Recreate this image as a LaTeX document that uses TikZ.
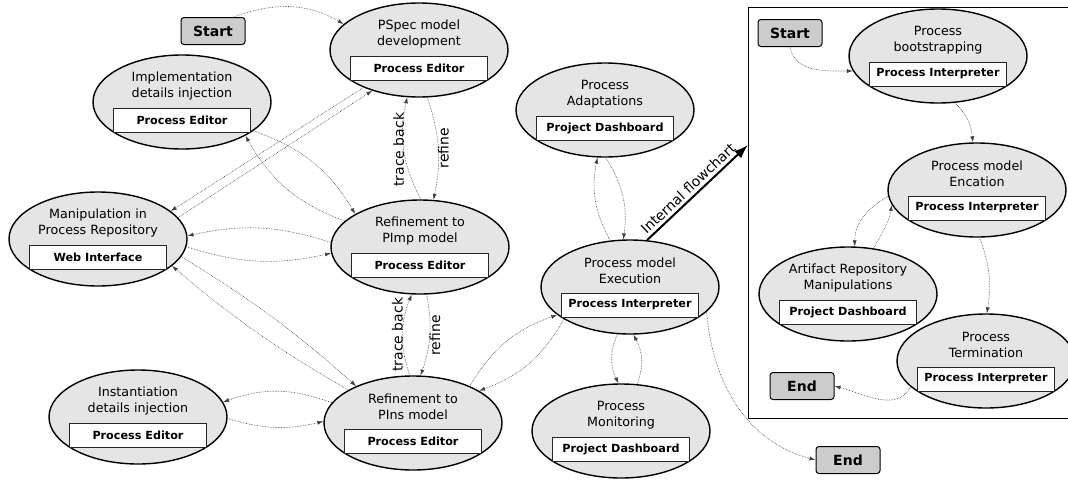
\documentclass[tikz,border=0pt]{standalone}
\usepackage{fontspec}
\setmainfont{DejaVu Sans}
\usetikzlibrary{arrows.meta,shapes.geometric}
\tikzset{
 stell/.style={ellipse, draw, line width=1.4pt, fill=gray!20, minimum width=178pt, minimum height=94pt, inner sep=0pt},
 sttitle/.style={align=center, font=\fontsize{12.7}{15.5}\selectfont, inner sep=0pt},
 sttool/.style={draw=black!85, fill=white, line width=0.9pt, minimum width=137pt, minimum height=24pt, inner sep=0pt, font=\fontsize{11.2}{13}\selectfont\bfseries},
 termbox/.style={draw, line width=1pt, rounded corners=3pt, fill=gray!40, minimum width=64pt, minimum height=27pt, inner sep=0pt, font=\fontsize{14}{16}\selectfont\bfseries},
 conn/.style={densely dotted, line width=0.6pt, black!75, -{Latex[length=6pt,width=4pt]}},
 flowarrow/.style={line width=2pt, -{Latex[length=14pt,width=10pt]}},
 lbl/.style={font=\fontsize{14}{16}\selectfont, inner sep=1.5pt, text=black},
 framebox/.style={draw, line width=1.4pt, minimum width=340pt, minimum height=411pt, anchor=north west, inner sep=0pt},
}
\newcommand\stnode[4]{%
 \node[stell] (#1) at (#2) {};
 \node[sttitle] (#1-t) at ([yshift=16pt]#1.center) {#3};
 \node[sttool] (#1-b) at ([yshift=-18pt]#1.center) {#4};
}
\begin{document}
\begin{tikzpicture}[x=1pt,y=-1pt]
\useasboundingbox (0,0) rectangle (1068,482);
\clip (0,0) rectangle (1068,482);
\fill[white] (0,0) rectangle (1068,482);

% frame of internal flowchart
\node[framebox] (frame) at (748,7) {};
\coordinate (fctip) at (748,145);

% outer states
\node[termbox] (start) at (213,31) {Start};
\node[termbox] (oend) at (848,460) {End};
\stnode{pspec}{419,50}{PSpec model\\development}{Process Editor}
\stnode{impl}{182,102}{Implementation\\details injection}{Process Editor}
\stnode{manip}{98,239}{Manipulation in\\Process Repository}{Web Interface}
\stnode{pimp}{420,247}{Refinement to\\PImp model}{Process Editor}
\stnode{pins}{413,423}{Refinement to\\PIns model}{Process Editor}
\stnode{inst}{138,417}{Instantiation\\details injection}{Process Editor}
\stnode{adapt}{605,110}{Process\\Adaptations}{Project Dashboard}
\stnode{exec}{630,287}{Process model\\Execution}{Process Interpreter}
\stnode{monit}{621,431}{Process\\Monitoring}{Project Dashboard}

% inner states
\node[termbox] (istart) at (790,33) {Start};
\node[termbox] (iend) at (802,386) {End};
\stnode{boot}{938,56}{Process\\bootstrapping}{Process Interpreter}
\stnode{enc}{977,190}{Process model\\Encation}{Process Interpreter}
\stnode{art}{848,294}{Artifact Repository\\Manipulations}{Project Dashboard}
\stnode{term}{986,361}{Process\\Termination}{Process Interpreter}

% outer connectors
\draw[conn] ([xshift=-12pt]start.north east) to[out=20,in=150] (pspec.161);
\draw[conn] (pspec.214) -- (manip.21);
\draw[conn] (manip.15) -- (pspec.221);
\draw[conn] (impl.338) to[bend left=20] (pimp.153);
\draw[conn] (pimp.161) to[bend left=20] (impl.332);
\draw[conn] (pimp.177) to[bend right=15] (manip.2);
\draw[conn] (manip.355) to[bend right=15] (pimp.184);
\draw[conn] (manip.348) to[bend left=5] (pins.147);
\draw[conn] (pins.153) to[bend left=5] (manip.340);
\draw[conn] (pimp.89) to[bend left=20] node[lbl,rotate=90,anchor=south,yshift=-2pt] (tb1) {trace back} (pspec.256);
\draw[conn] (pspec.280) to[bend left=15] node[lbl,rotate=90,anchor=north,yshift=2pt] (rf1) {refine} (pimp.74);
\draw[conn] (pins.94) to[bend left=20] node[lbl,rotate=90,anchor=south,yshift=-2pt] (tb2) {trace back} (pimp.260);
\draw[conn] (pimp.278) to[bend left=15] node[lbl,rotate=90,anchor=north,yshift=2pt] (rf2) {refine} (pins.81);
\draw[conn] (pins.166) to[bend right=20] (inst.10);
\draw[conn] (inst.359) to[bend right=15] (pins.179);
\draw[conn] (pins.33) to[bend left=20] (exec.201);
\draw[conn] (exec.206) to[bend left=20] (pins.26);
\draw[conn] (exec.255) to[bend right=25] (monit.93);
\draw[conn] (monit.71) to[bend right=25] (exec.274);
\draw[conn] (exec.113) to[bend left=20] (adapt.261);
\draw[conn] (adapt.271) to[bend left=20] (exec.98);
\draw[conn] (exec.342) to[out=-85,in=165] (oend.west);
\draw[flowarrow] (exec.70) -- node[lbl,sloped,above,pos=0.47,inner sep=3pt] (ifc) {Internal flowchart} (fctip);

% inner connectors
\draw[conn] (istart.south) to[out=-80,in=180] (boot.190);
\draw[conn] (boot.290) to[out=-45,in=95] (enc.95);
\draw[conn] (enc.184) to[out=210,in=90] (art.82);
\draw[conn] (art.61) to[out=60,in=260] (enc.190);
\draw[conn] (enc.273) to[bend left=15] (term.89);
\draw[conn] (term.199) to[out=240,in=-15] (iend.east);
\end{tikzpicture}
\end{document}
